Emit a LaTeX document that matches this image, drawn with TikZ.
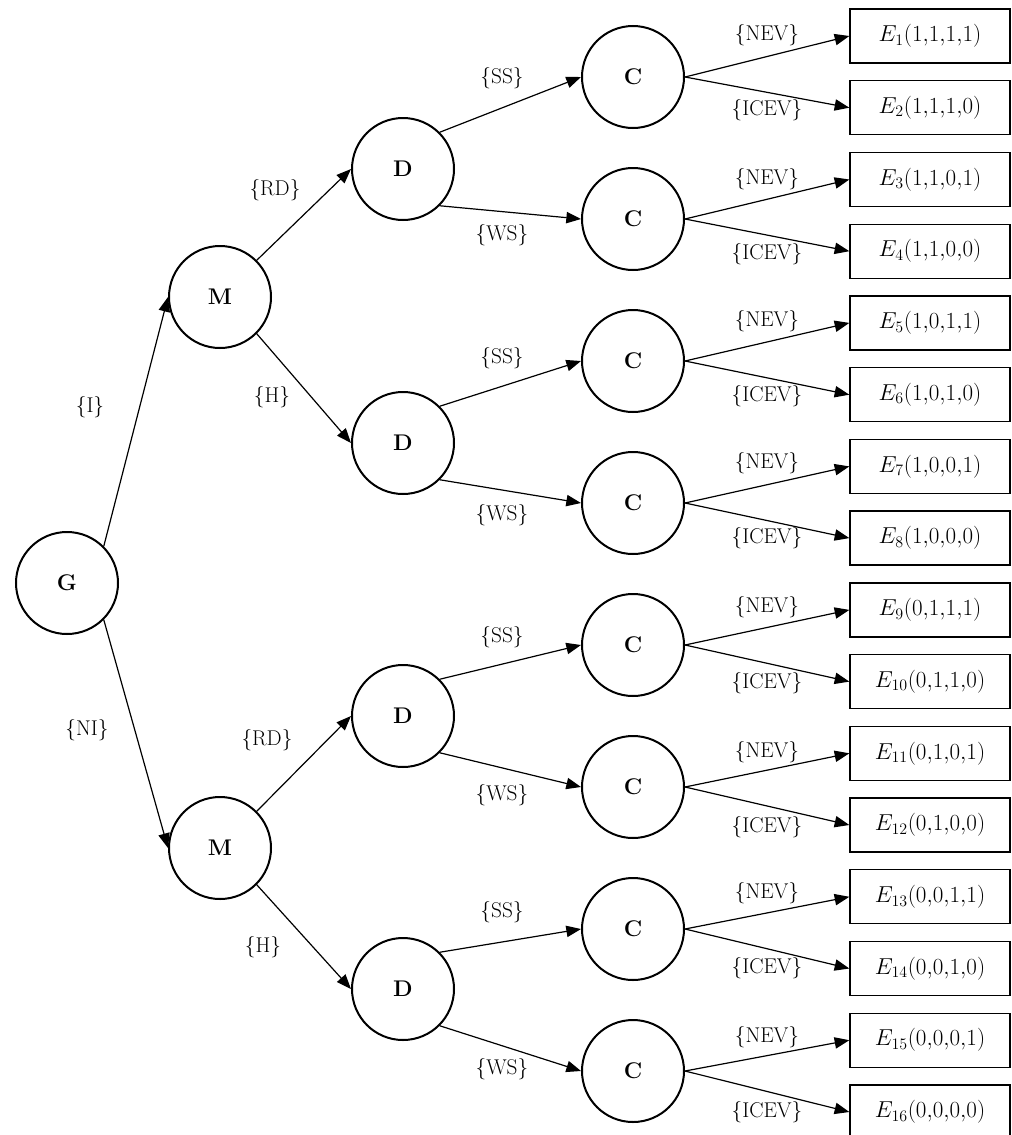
\documentclass[tikz,border=0pt]{standalone}
\usetikzlibrary{arrows.meta}
\begin{document}
\begin{tikzpicture}[x=0.75pt,y=-0.75pt,
  font=\fontsize{16}{19}\selectfont,
  state/.style={circle,draw,line width=1.5pt,minimum size=76.5pt,inner sep=0pt,font=\fontsize{17}{20}\selectfont\bfseries},
  outcome/.style={rectangle,draw,line width=1pt,minimum width=120pt,minimum height=40.5pt,inner sep=0pt,font=\fontsize{16.5}{19}\selectfont},
  edge/.style={line width=0.9pt,-{Triangle[length=11pt,width=8.5pt]}},
  lbl/.style={inner sep=0pt}]
\useasboundingbox (0,0) rectangle (1012,1135);

% decision nodes
\node[state] (G) at (67,583) {G};
\node[state] (M1) at (220,297) {M};
\node[state] (M2) at (220,848) {M};
\node[state] (D1) at (403,169) {D};
\node[state] (D2) at (403,443) {D};
\node[state] (D3) at (403,716) {D};
\node[state] (D4) at (403,989) {D};
\foreach \i in {1,...,8}
  \node[state] (C\i) at (633,{77+142*(\i-1)}) {C};

% outcomes
\node[outcome] (E1)  at (930,36.0)   {$E_{1}(1{,}1{,}1{,}1)$};
\node[outcome] (E2)  at (930,107.7)  {$E_{2}(1{,}1{,}1{,}0)$};
\node[outcome] (E3)  at (930,179.5)  {$E_{3}(1{,}1{,}0{,}1)$};
\node[outcome] (E4)  at (930,251.2)  {$E_{4}(1{,}1{,}0{,}0)$};
\node[outcome] (E5)  at (930,322.9)  {$E_{5}(1{,}0{,}1{,}1)$};
\node[outcome] (E6)  at (930,394.7)  {$E_{6}(1{,}0{,}1{,}0)$};
\node[outcome] (E7)  at (930,466.4)  {$E_{7}(1{,}0{,}0{,}1)$};
\node[outcome] (E8)  at (930,538.1)  {$E_{8}(1{,}0{,}0{,}0)$};
\node[outcome] (E9)  at (930,609.9)  {$E_{9}(0{,}1{,}1{,}1)$};
\node[outcome] (E10) at (930,681.6)  {$E_{10}(0{,}1{,}1{,}0)$};
\node[outcome] (E11) at (930,753.3)  {$E_{11}(0{,}1{,}0{,}1)$};
\node[outcome] (E12) at (930,825.0)  {$E_{12}(0{,}1{,}0{,}0)$};
\node[outcome] (E13) at (930,896.8)  {$E_{13}(0{,}0{,}1{,}1)$};
\node[outcome] (E14) at (930,968.5)  {$E_{14}(0{,}0{,}1{,}0)$};
\node[outcome] (E15) at (930,1040.2) {$E_{15}(0{,}0{,}0{,}1)$};
\node[outcome] (E16) at (930,1112.0) {$E_{16}(0{,}0{,}0{,}0)$};

% G -> M
\draw[edge] (G.45) -- (M1.west);
\draw[edge] (G.-45) -- (M2.west);
\node[lbl] (lI)  at (90,407) {\{I\}};
\node[lbl] (lNI) at (87,730) {\{NI\}};

% M -> D
\draw[edge] (M1.45) -- (D1.west);
\draw[edge] (M1.-45) -- (D2.west);
\draw[edge] (M2.45) -- (D3.west);
\draw[edge] (M2.-45) -- (D4.west);
\node[lbl] (lRD1) at (275,190) {\{RD\}};
\node[lbl] (lH1)  at (272,397) {\{H\}};
\node[lbl] (lRD2) at (267,740) {\{RD\}};
\node[lbl] (lH2)  at (263,947) {\{H\}};

% D -> C
\draw[edge] (D1.45) -- (C1.west);
\draw[edge] (D1.-45) -- (C2.west);
\draw[edge] (D2.45) -- (C3.west);
\draw[edge] (D2.-45) -- (C4.west);
\draw[edge] (D3.45) -- (C5.west);
\draw[edge] (D3.-45) -- (C6.west);
\draw[edge] (D4.45) -- (C7.west);
\draw[edge] (D4.-45) -- (C8.west);
\node[lbl] (lSS1) at (502,78)   {\{SS\}};
\node[lbl] (lWS1) at (502,235)  {\{WS\}};
\node[lbl] (lSS2) at (502,358)  {\{SS\}};
\node[lbl] (lWS2) at (502,515)  {\{WS\}};
\node[lbl] (lSS3) at (502,637)  {\{SS\}};
\node[lbl] (lWS3) at (502,795)  {\{WS\}};
\node[lbl] (lSS4) at (502,912)  {\{SS\}};
\node[lbl] (lWS4) at (502,1069) {\{WS\}};

% C -> E
\foreach \c/\a/\b/\ny/\iy in {1/1/2/35/110, 2/3/4/179/254, 3/5/6/321/396, 4/7/8/463/538,
                              5/9/10/607/683, 6/11/12/752/827, 7/13/14/893/968, 8/15/16/1037/1112} {
  \draw[edge] (C\c.east) -- (E\a.west);
  \draw[edge] (C\c.east) -- (E\b.west);
  \node[lbl] (lNEV\c)  at (767,\ny) {\{NEV\}};
  \node[lbl] (lICEV\c) at (767,\iy) {\{ICEV\}};
}
\end{tikzpicture}
\end{document}
